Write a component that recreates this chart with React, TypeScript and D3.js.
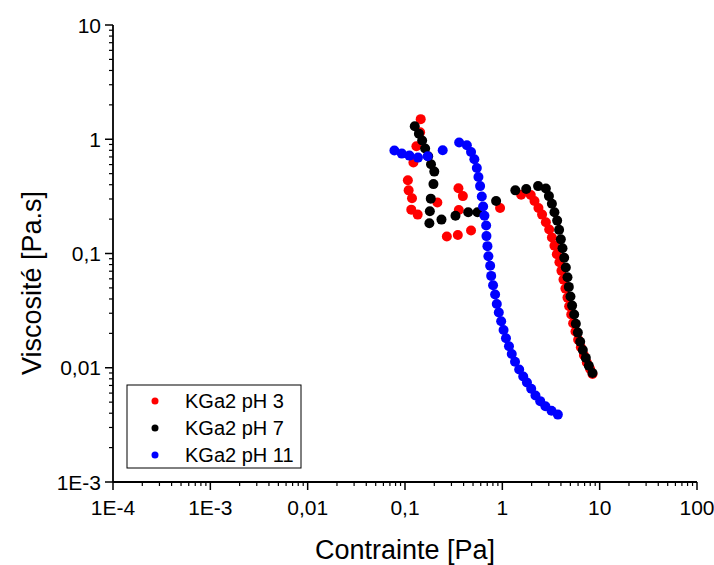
import React from "react";
import * as d3 from "d3";

const seriesNames = ["KGa2 pH 3", "KGa2 pH 7", "KGa2 pH 11"];
const seriesColors = ["#ff0000", "#000000", "#0000ff"];

// pH 3
const ph3X = [0.145, 0.143, 0.131, 0.122, 0.107, 0.109, 0.118, 0.116, 0.135, 0.215, 0.269, 0.349, 0.477, 0.357, 0.354, 0.393, 0.948,
  1.56, 1.96, 2.14, 2.35, 2.56, 2.80, 3.03, 3.23, 3.43, 3.63, 3.86, 4.05, 4.25, 4.45, 4.67, 4.86, 5.10, 5.34, 5.64, 6.01, 6.41, 6.88, 7.38, 7.98, 8.44];
const ph3Y = [1.50, 1.15, 0.868, 0.625, 0.437, 0.357, 0.304, 0.242, 0.219, 0.280, 0.141, 0.145, 0.159, 0.240, 0.372, 0.318, 0.250,
  0.327, 0.325, 0.288, 0.250, 0.219, 0.188, 0.162, 0.138, 0.117, 0.0986, 0.0839, 0.0705, 0.0591, 0.0493, 0.0411, 0.0345, 0.0292, 0.0245, 0.0208, 0.0176, 0.0151, 0.0129, 0.0111, 0.00975, 0.00881];

// pH 7
const ph7X = [0.126, 0.139, 0.150, 0.161, 0.173, 0.185, 0.200, 0.196, 0.184, 0.180, 0.178, 0.237, 0.330, 0.446, 0.555, 0.863,
  1.36, 1.76, 2.33, 2.80, 3.01, 3.23, 3.43, 3.66, 3.83, 3.99, 4.15, 4.32, 4.49, 4.67, 4.82, 5.01, 5.21, 5.47, 5.69, 5.97, 6.31, 6.71, 7.21, 7.74, 8.44];
const ph7Y = [1.30, 1.12, 0.974, 0.829, 0.709, 0.604, 0.521, 0.405, 0.302, 0.234, 0.184, 0.198, 0.214, 0.230, 0.230, 0.288,
  0.357, 0.367, 0.389, 0.370, 0.318, 0.273, 0.230, 0.194, 0.161, 0.133, 0.111, 0.0917, 0.0754, 0.0620, 0.0510, 0.0420, 0.0350, 0.0292, 0.0243, 0.0203, 0.0169, 0.0143, 0.0122, 0.0104, 0.0090];

// pH 11
const ph11X = [0.0778, 0.0927, 0.111, 0.136, 0.171, 0.244, 0.360, 0.432, 0.477, 0.516, 0.547, 0.568, 0.591, 0.615, 0.635, 0.655, 0.682, 0.687, 0.703, 0.719,
  0.750, 0.768, 0.803, 0.843, 0.877, 0.920, 0.973, 1.03, 1.09, 1.17, 1.25, 1.35, 1.49, 1.64, 1.79, 1.98, 2.19, 2.45, 2.77, 3.20, 3.72];
const ph11Y = [0.796, 0.749, 0.719, 0.691, 0.709, 0.801, 0.936, 0.886, 0.774, 0.668, 0.560, 0.467, 0.389, 0.316, 0.258, 0.214, 0.176, 0.142, 0.116, 0.0947,
  0.0780, 0.0637, 0.0527, 0.0437, 0.0362, 0.0304, 0.0255, 0.0214, 0.0181, 0.0154, 0.0132, 0.0113, 0.00966, 0.00839, 0.00743, 0.00654, 0.00571, 0.00510, 0.00461, 0.00420, 0.00389];

const xTickValues = [1e-4, 1e-3, 1e-2, 1e-1, 1, 10, 100];
const xTickLabels = ["1E-4", "1E-3", "0,01", "0,1", "1", "10", "100"];
const yTickValues = [1e-3, 1e-2, 1e-1, 1, 10];
const yTickLabels = ["1E-3", "0,01", "0,1", "1", "10"];

const xTitle = "Contrainte [Pa]";
const yTitle = "Viscosité [Pa.s]";

const FONT = "'Liberation Sans', Arial, Helvetica, sans-serif";

export default function App() {
  const W = 714, H = 565;
  const left = 113, right = 697, top = 25, bottom = 482;
  const x = d3.scaleLog().domain([1e-4, 100]).range([left, right]);
  const y = d3.scaleLog().domain([1e-3, 10]).range([bottom, top]);

  const series = [
    { xs: ph3X, ys: ph3Y },
    { xs: ph7X, ys: ph7Y },
    { xs: ph11X, ys: ph11Y },
  ];

  const minorX: number[] = [];
  for (let e = -4; e < 2; e++) for (let k = 2; k <= 9; k++) minorX.push(k * Math.pow(10, e));
  const minorY: number[] = [];
  for (let e = -3; e < 1; e++) for (let k = 2; k <= 9; k++) minorY.push(k * Math.pow(10, e));

  return (
    <div style={{ position: "fixed", left: 0, top: 0 }}>
      <svg width={W} height={H} style={{ display: "block", background: "#fff" }} fontFamily={FONT}>
        <rect x={0} y={0} width={W} height={H} fill="#fff" />
        {/* points */}
        {series.map((s, si) =>
          s.xs.map((xv, i) => (
            <circle key={`${si}-${i}`} cx={x(xv)} cy={y(s.ys[i])} r={5} fill={seriesColors[si]} />
          ))
        )}
        {/* axes */}
        <line x1={left} x2={right} y1={bottom} y2={bottom} stroke="#000" strokeWidth={1.8} />
        <line x1={left} x2={left} y1={top} y2={bottom} stroke="#000" strokeWidth={1.8} />
        {xTickValues.map((v) => (
          <line key={`xm${v}`} x1={x(v)} x2={x(v)} y1={bottom} y2={bottom + 8} stroke="#000" strokeWidth={1.5} />
        ))}
        {minorX.map((v) => (
          <line key={`xn${v}`} x1={x(v)} x2={x(v)} y1={bottom} y2={bottom + 4} stroke="#000" strokeWidth={1.2} />
        ))}
        {yTickValues.map((v) => (
          <line key={`ym${v}`} x1={left - 8} x2={left} y1={y(v)} y2={y(v)} stroke="#000" strokeWidth={1.5} />
        ))}
        {minorY.map((v) => (
          <line key={`yn${v}`} x1={left - 4} x2={left} y1={y(v)} y2={y(v)} stroke="#000" strokeWidth={1.2} />
        ))}
        {xTickValues.map((v, i) => (
          <text key={`xl${v}`} x={x(v)} y={515} textAnchor="middle" fontSize={21} fill="#000">
            {xTickLabels[i]}
          </text>
        ))}
        {yTickValues.map((v, i) => (
          <text key={`yl${v}`} x={101} y={y(v)} dy="0.36em" textAnchor="end" fontSize={21} fill="#000">
            {yTickLabels[i]}
          </text>
        ))}
        <text x={(left + right) / 2} y={559} textAnchor="middle" fontSize={27} fill="#000">
          {xTitle}
        </text>
        <text transform={`translate(41,283) rotate(-90)`} textAnchor="middle" fontSize={27} fill="#000">
          {yTitle}
        </text>
        {/* legend */}
        <rect x={127} y={385} width={174} height={83} fill="#fff" stroke="#000" strokeWidth={1} />
        {seriesNames.map((n, i) => (
          <g key={n}>
            <circle cx={155} cy={401 + i * 27} r={3.5} fill={seriesColors[i]} />
            <text x={185} y={401 + i * 27} dy="0.36em" fontSize={20} fill="#000">
              {n}
            </text>
          </g>
        ))}
      </svg>
    </div>
  );
}
